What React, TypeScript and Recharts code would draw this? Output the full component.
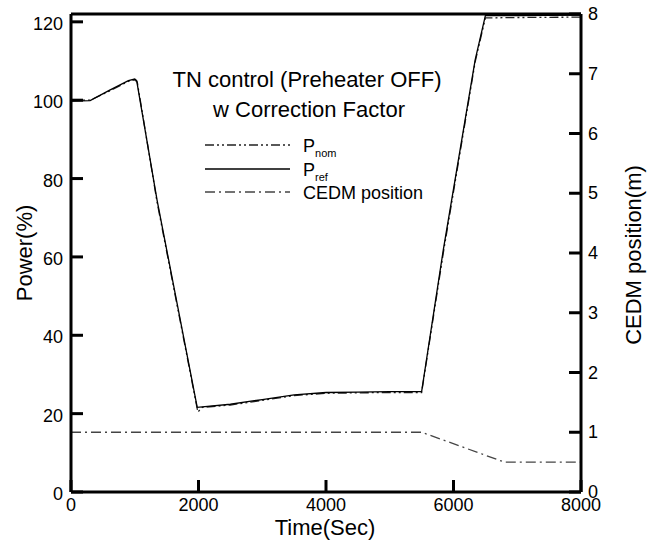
import { LineChart, Line, XAxis, YAxis, ReferenceLine } from "recharts";

// time (s) and power (%)
const pRefTime = [0, 300, 600, 900, 1000, 1030, 1350, 1980, 2500, 3000, 3500, 4000, 4500, 5000, 5500, 5840, 6340, 6500, 7000, 8000];
const pRefValue = [99.8, 99.9, 102.5, 105.0, 105.4, 105.0, 74.5, 21.6, 22.4, 23.6, 24.8, 25.4, 25.5, 25.6, 25.6, 61.8, 110.3, 121.6, 121.6, 121.7];

const pNomTime = [0, 300, 600, 900, 1000, 1040, 1350, 1990, 2060, 2500, 3000, 3500, 4000, 4500, 5000, 5500, 5840, 6340, 6500, 7000, 8000];
const pNomValue = [100.0, 100.0, 102.3, 104.8, 105.2, 104.6, 74.0, 20.4, 21.6, 22.2, 23.4, 24.6, 25.2, 25.3, 25.4, 25.4, 61.0, 109.8, 121.0, 121.1, 121.2];

// CEDM position (m)
const cedmTime = [0, 5500, 6800, 8000];
const cedmValue = [1.0, 1.0, 0.5, 0.5];

const timeTicks = [0, 2000, 4000, 6000, 8000];
const powerTicks = [0, 20, 40, 60, 80, 100, 120];
const cedmTicks = [0, 1, 2, 3, 4, 5, 6, 7, 8];

const toRows = (t: number[], v: number[]) => t.map((x, i) => ({ t: x, v: v[i] }));
const pRefData = toRows(pRefTime, pRefValue);
const pNomData = toRows(pNomTime, pNomValue);
const cedmData = toRows(cedmTime, cedmValue);

const FONT = "'Liberation Sans', Arial, sans-serif";
const NOM_DASH = "9 3 2 3 2 3";
const CEDM_DASH = "10 4 2 4";

// ticks point inward, like the original plot
const BottomTick = (props: any) => {
  const { x, y, payload } = props;
  return (
    <g>
      <line x1={x} y1={y} x2={x} y2={y - 12} stroke="#000" strokeWidth={3} />
      <text x={x} y={y + 19} textAnchor="middle" fontSize={18} fontFamily={FONT} fill="#000">
        {payload.value}
      </text>
    </g>
  );
};

const LeftTick = (props: any) => {
  const { x, y, payload } = props;
  return (
    <g>
      <line x1={x} y1={y} x2={x + 12} y2={y} stroke="#000" strokeWidth={3} />
      <text x={x - 8} y={y + 8} textAnchor="end" fontSize={18} fontFamily={FONT} fill="#000">
        {payload.value}
      </text>
    </g>
  );
};

const RightTick = (props: any) => {
  const { x, y, payload } = props;
  return (
    <g>
      <line x1={x} y1={y} x2={x - 12} y2={y} stroke="#000" strokeWidth={3} />
      <text x={x + 7} y={y + 6} textAnchor="start" fontSize={18} fontFamily={FONT} fill="#000">
        {payload.value}
      </text>
    </g>
  );
};

const App = () => {
  return (
    <div style={{ position: "absolute", left: 0, top: 0, width: 658, height: 545, background: "#fff" }}>
      <LineChart
        width={658}
        height={545}
        margin={{ top: 14, right: 17, bottom: 13, left: 11 }}
      >
        <XAxis
          dataKey="t"
          type="number"
          domain={[0, 8000]}
          ticks={timeTicks}
          height={40}
          tickSize={0}
          tickMargin={0}
          tickLine={false}
          axisLine={{ stroke: "#000", strokeWidth: 3 }}
          tick={<BottomTick />}
          allowDuplicatedCategory={false}
        />
        <YAxis
          yAxisId="left"
          type="number"
          domain={[0, 122]}
          ticks={powerTicks}
          width={60}
          tickSize={0}
          tickMargin={0}
          tickLine={false}
          axisLine={{ stroke: "#000", strokeWidth: 3 }}
          tick={<LeftTick />}
        />
        <YAxis
          yAxisId="right"
          orientation="right"
          type="number"
          domain={[0, 8]}
          ticks={cedmTicks}
          width={60}
          tickSize={0}
          tickMargin={0}
          tickLine={false}
          axisLine={{ stroke: "#000", strokeWidth: 3 }}
          tick={<RightTick />}
        />
        <ReferenceLine yAxisId="right" y={8} stroke="#000" strokeWidth={3} ifOverflow="visible" />
        <Line
          yAxisId="left"
          data={pNomData}
          dataKey="v"
          type="linear"
          dot={false}
          stroke="#222"
          strokeWidth={1.3}
          strokeDasharray={NOM_DASH}
          isAnimationActive={false}
        />
        <Line
          yAxisId="left"
          data={pRefData}
          dataKey="v"
          type="linear"
          dot={false}
          stroke="#000"
          strokeWidth={1.3}
          isAnimationActive={false}
        />
        <Line
          yAxisId="right"
          data={cedmData}
          dataKey="v"
          type="linear"
          dot={false}
          stroke="#444"
          strokeWidth={1.3}
          strokeDasharray={CEDM_DASH}
          isAnimationActive={false}
        />
      </LineChart>
      <svg
        width={658}
        height={545}
        style={{ position: "absolute", left: 0, top: 0, pointerEvents: "none" }}
        fontFamily={FONT}
      >
        <text x={307} y={87} textAnchor="middle" fontSize={22}>TN control (Preheater OFF)</text>
        <text x={309} y={117} textAnchor="middle" fontSize={22}>w Correction Factor</text>

        <line x1={205} y1={145} x2={290} y2={145} stroke="#222" strokeWidth={1.3} strokeDasharray={NOM_DASH} />
        <text x={303} y={152} fontSize={18}>
          P<tspan fontSize={11} dy={5}>nom</tspan>
        </text>
        <line x1={205} y1={169} x2={290} y2={169} stroke="#000" strokeWidth={1.3} />
        <text x={303} y={176} fontSize={18}>
          P<tspan fontSize={11} dy={5}>ref</tspan>
        </text>
        <line x1={205} y1={192} x2={290} y2={192} stroke="#444" strokeWidth={1.3} strokeDasharray={CEDM_DASH} />
        <text x={303} y={199} fontSize={18}>CEDM position</text>

        <text x={325} y={535} textAnchor="middle" fontSize={22}>Time(Sec)</text>
        <text x={32} y={253} textAnchor="middle" fontSize={22} transform="rotate(-90 32 253)">Power(%)</text>
        <text x={641} y={255} textAnchor="middle" fontSize={22} transform="rotate(-90 641 255)">CEDM position(m)</text>
      </svg>
    </div>
  );
};

export default App;
